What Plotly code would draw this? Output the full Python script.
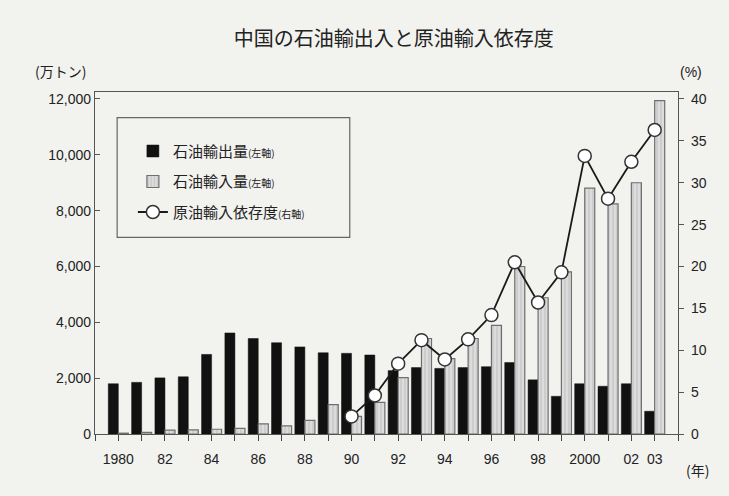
import plotly.graph_objects as go

years = list(range(1980, 2004))
exports = [1800, 1850, 2010, 2050, 2850, 3620, 3420, 3270, 3120, 2910, 2890, 2830,
           2270, 2380, 2350, 2380, 2410, 2560, 1940, 1350, 1800, 1710, 1800, 815]
imports = [30, 60, 140, 150, 170, 200, 360, 290, 490, 1050, 630, 1130,
           2020, 3420, 2700, 3420, 3890, 6000, 4880, 5810, 8810, 8240, 9000, 11940]
dep_years = list(range(1990, 2004))
dependence = [2.1, 4.6, 8.4, 11.2, 8.9, 11.3, 14.2, 20.5, 15.7, 19.3, 33.2, 28.1, 32.5, 36.3]

xtick_vals = [1980, 1982, 1984, 1986, 1988, 1990, 1992, 1994, 1996, 1998, 2000, 2002, 2003]
xtick_text = ["1980", "82", "84", "86", "88", "90", "92", "94", "96", "98", "2000", "02", "03"]
left_ticks = [0, 2000, 4000, 6000, 8000, 10000, 12000]
right_ticks = [0, 5, 10, 15, 20, 25, 30, 35, 40]

title = "中国の石油輸出入と原油輸入依存度"
names = ["石油輸出量", "石油輸入量", "原油輸入依存度"]
axis_notes = ["(左軸)", "(左軸)", "(右軸)"]

JP = "Noto Sans CJK JP"
NUM = "Liberation Sans, Arial"
BG = "#f2f2ef"

fig = go.Figure()
fig.add_trace(go.Bar(
    x=years, y=exports, name=names[0] + f"<span style='font-size:10px'>{axis_notes[0]}</span>",
    marker=dict(color="#111111", line=dict(color="#111111", width=0.5)),
    legendgroup="a", yaxis="y"))
fig.add_trace(go.Bar(
    x=years, y=imports, name=names[1] + f"<span style='font-size:10px'>{axis_notes[1]}</span>",
    marker=dict(color="#d2d2d2", line=dict(color="#6f6f6f", width=1.2),
                pattern=dict(shape="|", fgcolor="#a0a0a0", bgcolor="#dcdcdc", size=4, solidity=0.25)),
    legendgroup="b", yaxis="y"))
fig.add_trace(go.Scatter(
    x=dep_years, y=dependence, name=names[2] + f"<span style='font-size:10px'>{axis_notes[2]}</span>",
    mode="lines+markers", line=dict(color="#1a1a1a", width=1.8),
    marker=dict(size=13, color="white", line=dict(color="#333333", width=1.5)),
    legendgroup="c", yaxis="y2"))

fig.update_layout(
    width=729, height=496,
    margin=dict(l=95, r=51, t=92, b=62),
    paper_bgcolor=BG, plot_bgcolor=BG,
    barmode="group", bargap=0.14, bargroupgap=0.0,
    title=dict(text=title, x=0.54, xanchor="center", y=0.922, yanchor="middle",
               font=dict(family=JP, size=20, color="#222")),
    font=dict(family=NUM, size=14, color="#222"),
    showlegend=True,
    legend=dict(x=0.065, y=0.875, xanchor="left", yanchor="top",
                bgcolor="rgba(0,0,0,0)", borderwidth=0,
                font=dict(family=JP, size=15, color="#222"),
                tracegroupgap=8, itemwidth=30),
    xaxis=dict(range=[1979.0, 2004.0], tickmode="array", tickvals=xtick_vals, ticktext=xtick_text,
               ticks="outside", ticklen=6, tickcolor="#444", showline=True, linecolor="#555",
               linewidth=1.2, mirror=True, showgrid=False, zeroline=False, ticklabelstandoff=6,
               minor=dict(dtick=1, tick0=1980, ticks="outside", ticklen=6, tickcolor="#444"),
               tickfont=dict(family=NUM, size=14, color="#222")),
    yaxis=dict(range=[0, 12250], tickvals=left_ticks, tickformat=",", ticks="inside", ticklen=5,
               tickcolor="#555", showline=True, linecolor="#555", linewidth=1.2,
               showgrid=False, zeroline=False, tickfont=dict(family=NUM, size=14, color="#222")),
    yaxis2=dict(range=[0, 12250 / 300], tickvals=right_ticks, overlaying="y", side="right",
                ticks="outside", ticklen=5, tickcolor="#555", showline=True, linecolor="#555",
                linewidth=1.2, showgrid=False, zeroline=False, ticklabelstandoff=4,
                tickfont=dict(family=NUM, size=14, color="#222")),
)

# legend frame
fig.add_shape(type="rect", xref="paper", yref="paper", x0=0.038, x1=0.437, y0=0.575, y1=0.925,
              line=dict(color="#666", width=1.2), fillcolor="rgba(0,0,0,0)", layer="below")

fig.add_annotation(text="(万トン)", xref="paper", yref="paper", x=-0.06, y=1.025, xanchor="center",
                   yanchor="bottom", showarrow=False, font=dict(family=JP, size=14, color="#222"))
fig.add_annotation(text="(%)", xref="paper", yref="paper", x=1.0, y=1.03, xanchor="left",
                   yanchor="bottom", showarrow=False, font=dict(family=NUM, size=14, color="#222"))
fig.add_annotation(text="(年)", xref="paper", yref="paper", x=1.01, y=-0.07, xanchor="left",
                   yanchor="top", showarrow=False, font=dict(family=JP, size=14, color="#222"))

fig.write_html("out.html")
